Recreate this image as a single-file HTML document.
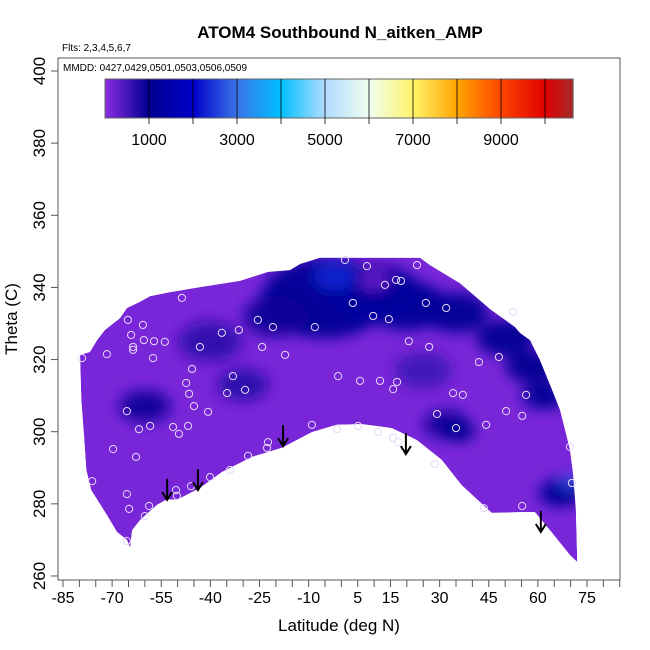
<!DOCTYPE html>
<html><head><meta charset="utf-8">
<style>
html,body{margin:0;padding:0;background:#fff;}
svg{display:block;font-family:"Liberation Sans",sans-serif;}
</style></head>
<body>
<svg id="chart" width="650" height="650" viewBox="0 0 650 650" xmlns="http://www.w3.org/2000/svg">
<defs>
<linearGradient id="cbar" x1="0" x2="1" y1="0" y2="0">
</linearGradient>
<clipPath id="fieldClip"><polygon id="clipPoly" points=""/></clipPath>
<filter id="blur" x="-50%" y="-50%" width="200%" height="200%"><feGaussianBlur stdDeviation="7"/></filter>
</defs>
<text x="340" y="38" text-anchor="middle" font-size="17" font-weight="bold">ATOM4 Southbound N_aitken_AMP</text>
<text x="62" y="51" font-size="10">Flts: 2,3,4,5,6,7</text>
<g id="field" clip-path="url(#fieldClip)"></g>
<g id="marks"></g>
<rect x="58" y="58" width="562" height="522" fill="none" stroke="#555" stroke-width="1"/>
<text x="63" y="71" font-size="10">MMDD: 0427,0429,0501,0503,0506,0509</text>
<g id="colorbar"></g>
<g id="axes"></g>
<text x="339" y="631" text-anchor="middle" font-size="17">Latitude (deg N)</text>
<text transform="translate(17,319) rotate(-90)" text-anchor="middle" font-size="17">Theta (C)</text>
</svg>
<script>
// ---- data ----
const xTicks = [];
for (let v = -85; v <= 85; v += 5) xTicks.push(v);
const xLabels = [-85,-70,-55,-40,-25,-10,5,15,30,45,60,75];
const yTicks = [260,280,300,320,340,360,380,400];
const cbTicks = [1000,2000,3000,4000,5000,6000,7000,8000,9000,10000];
const cbLabels = [1000,3000,5000,7000,9000];
const cbMax = 10640;
const cbStopVals = [0,1000,2000,3000,4000,5000,6000,7000,8000,9000,10000,10640];
const cbStopCols = ["#8a2be2","#000090","#0000c8","#3a74e8","#00bfff","#b0dcff","#f0fff0","#fff36a","#ffa500","#ff4500","#e00000","#a52a2a"];

// field boundary (upper edge west->east, then lower edge east->west)
const bndLat = [-79.8,-76.8,-74.6,-72.2,-67.6,-65.5,-61.5,-58.4,-52.3,-43.2,-31,-22.4,-15.7,-12.6,-6.5,2.6,24,27.1,31.6,36.2,40.8,45.4,50,53,54.5,57.6,60.6,63.7,66.8,68.3,69.8,70.7,71.6,72,
  72,69.8,63.7,59.1,55.1,45.9,36.7,30.6,23,15.4,6.2,-1.4,-9,-18.2,-27.3,-36.5,-43.2,-50.2,-53.2,-56.3,-61.5,-63.9,-64.5,-65.5,-68.5,-71.6,-76.4,-77.9,-78.5,-79.4];
const bndTheta = [321.3,322.1,325.4,328.2,331.5,334.3,336,337.6,338.7,340.1,341.8,344.3,344.8,346.5,348.2,348.2,348.2,346.2,343.7,341.2,337.6,334,331,329,327.4,325.4,319.9,313,306,300.5,295,288.8,278.3,265,
  263.9,265.8,272.7,277.7,277.7,277.5,285.2,292.2,297.7,301,302.1,301.9,299.9,295.5,293,288.8,284.4,281.1,281.3,279.7,275.5,272.7,267.8,270,272.2,276.9,283.8,289.4,297.7,308.8];

// interpolated concentration features
const blobLat = [-5,10,20,35,50,58,62,-20,-40,-60,-30,32,36,67,25,-2,10,70];
const blobTheta = [337,338,335,333,326,318,310,332,325,307,313,302,300,283,317,343,342,286];
const blobVal = [1100,1250,1200,1100,1000,1000,1100,900,650,900,700,900,1000,1100,550,2300,250,2600];
const blobR = [40,30,25,20,18,16,14,20,20,16,16,14,10,14,18,13,9,7];

// observation points
const obsLat = [-48.7,-65.2,-60.6,-64.2,-60.3,-57.2,-53.9,-63.6,-63.6,-71.6,-79.2,-57.5,-25.5,-36.5,-31.3,-20.9,-8.1,-43.2,-24.2,-17.2,-45.6,-33.1,-47.4,-46.5,-34.9,-29.4,-45,-40.7,-65.5,-61.8,-58.4,-51.4,-46.8,-49.6,-69.7,-62.7,-22.4,-22.7,-28.5,-34,-40.1,-45.9,-50.5,-50.2,-65.5,-58.7,-64.8,-60,-65.5,-76.1,-9,-1.3,-1,1.1,7.8,23.1,16.7,18.2,13.3,3.5,25.8,32,9.7,14.5,52.4,20.6,26.8,42,48.1,5.7,11.8,17,15.8,34.1,37.1,56.4,50.3,55.2,29.2,44.2,35,5.1,11.2,15.8,17.3,28.6,43.5,55.2,69.8,70.4];
const obsTheta = [337.1,331,329.6,326.8,325.4,325.1,324.9,323.5,322.7,321.5,320.4,320.4,331,327.4,328.2,329,329,323.5,323.5,321.3,317.4,315.4,313.5,310.5,310.7,311.6,307.1,305.5,305.7,300.7,301.6,301.3,301.6,299.4,295.2,293,297.1,295.5,293.3,289.4,287.4,284.9,283.8,282.2,282.7,279.4,278.6,276.6,269.7,286.3,301.9,300.7,315.4,347.6,345.9,346.2,342.1,341.8,340.7,335.7,335.7,334.3,332.1,331.2,333.2,325.1,323.5,319.3,320.7,314.1,314.1,313.8,311.8,310.7,310.2,310.2,305.7,304.4,304.9,301.9,301,301.6,299.9,298.3,297.1,291,278.8,279.4,295.8,285.8];

// flight arrows (tip positions)
const arrowLat = [-53.2,-43.8,-17.8,19.7,60.9];
const arrowTheta = [281.1,283.8,296,293.8,272.2];

// ---- axes ----
const X = lat => 63 + (lat + 85) * 3.275;
const Y = th => 71 + (400 - th) * 3.607;
const CB = v => 105 + v / 1000 * 44;
const NS = "http://www.w3.org/2000/svg";
function mk(tag, attrs, parent){ const e=document.createElementNS(NS,tag); for(const k in attrs) e.setAttribute(k,attrs[k]); parent.appendChild(e); return e; }
function hex2rgb(h){ return [parseInt(h.slice(1,3),16),parseInt(h.slice(3,5),16),parseInt(h.slice(5,7),16)]; }
function colorOf(v){
  for(let i=0;i<cbStopVals.length-1;i++){
    if(v<=cbStopVals[i+1]){
      const t=(v-cbStopVals[i])/(cbStopVals[i+1]-cbStopVals[i]);
      const a=hex2rgb(cbStopCols[i]), b=hex2rgb(cbStopCols[i+1]);
      return "rgb("+a.map((c,j)=>Math.round(c+(b[j]-c)*t)).join(",")+")";
    }
  }
  return cbStopCols[cbStopCols.length-1];
}

const field = document.getElementById('field');
const marks = document.getElementById('marks');
const axes = document.getElementById('axes');
const cbar = document.getElementById('colorbar');

// field
const pts = bndLat.map((l,i)=>X(l).toFixed(1)+","+Y(bndTheta[i]).toFixed(1)).join(" ");
document.getElementById('clipPoly').setAttribute('points', pts);
const bg = mk('polygon',{points:pts, fill:colorOf(120)}, field);


const bgl = mk('g',{filter:'url(#blur)'}, field);
blobLat.forEach((l,i)=>{
  const e = mk('ellipse',{cx:X(l), cy:Y(blobTheta[i]), rx:blobR[i]*1.6, ry:blobR[i], fill:colorOf(blobVal[i]), opacity:0.95}, bgl);
  
  
});

// observations
obsLat.forEach((l,i)=>{
  const c = mk('circle',{cx:X(l), cy:Y(obsTheta[i]), r:3.6, fill:'none', stroke:'#e4d8f8', 'stroke-width':1}, marks);
  
  
});
// arrows
arrowLat.forEach((l,i)=>{
  const x=X(l), y=Y(arrowTheta[i]);
  const g = mk('g',{}, marks);
  
  
  mk('line',{x1:x,y1:y-21,x2:x,y2:y,stroke:'#000','stroke-width':2}, g);
  mk('polyline',{points:(x-5)+","+(y-8)+" "+x+","+y+" "+(x+5)+","+(y-8),fill:'none',stroke:'#000','stroke-width':2}, g);
});

// colorbar
const grad = document.getElementById('cbar');
cbStopVals.forEach((v,i)=>{ mk('stop',{offset:(v/cbMax), 'stop-color':cbStopCols[i]}, grad); });
const cbr = mk('rect',{x:CB(0), y:79, width:CB(cbMax)-CB(0), height:39, fill:'url(#cbar)', stroke:'#666','stroke-width':1}, cbar);


cbTicks.forEach(v=>{
  const t = mk('line',{x1:CB(v),y1:79,x2:CB(v),y2:124,stroke:'#000','stroke-width':0.8}, cbar);
  
  
});
cbLabels.forEach(v=>{
  const t = mk('text',{x:CB(v), y:145, 'text-anchor':'middle','font-size':16}, cbar);
  t.textContent = v;
  
  
});

// x axis
xTicks.forEach(v=>{
  const t = mk('line',{x1:X(v),y1:580,x2:X(v),y2:587,stroke:'#555','stroke-width':1}, axes);
  
  
});
xLabels.forEach(v=>{
  const t = mk('text',{x:X(v), y:603, 'text-anchor':'middle','font-size':16}, axes);
  t.textContent = v;
  
  
});
// y axis
yTicks.forEach(v=>{
  const t = mk('line',{x1:51,y1:Y(v),x2:58,y2:Y(v),stroke:'#555','stroke-width':1}, axes);
  
  
  const l = mk('text',{transform:'translate(45,'+Y(v)+') rotate(-90)', 'text-anchor':'middle','font-size':17}, axes);
  l.textContent = v;
  
  
});
</script>
</body></html>
